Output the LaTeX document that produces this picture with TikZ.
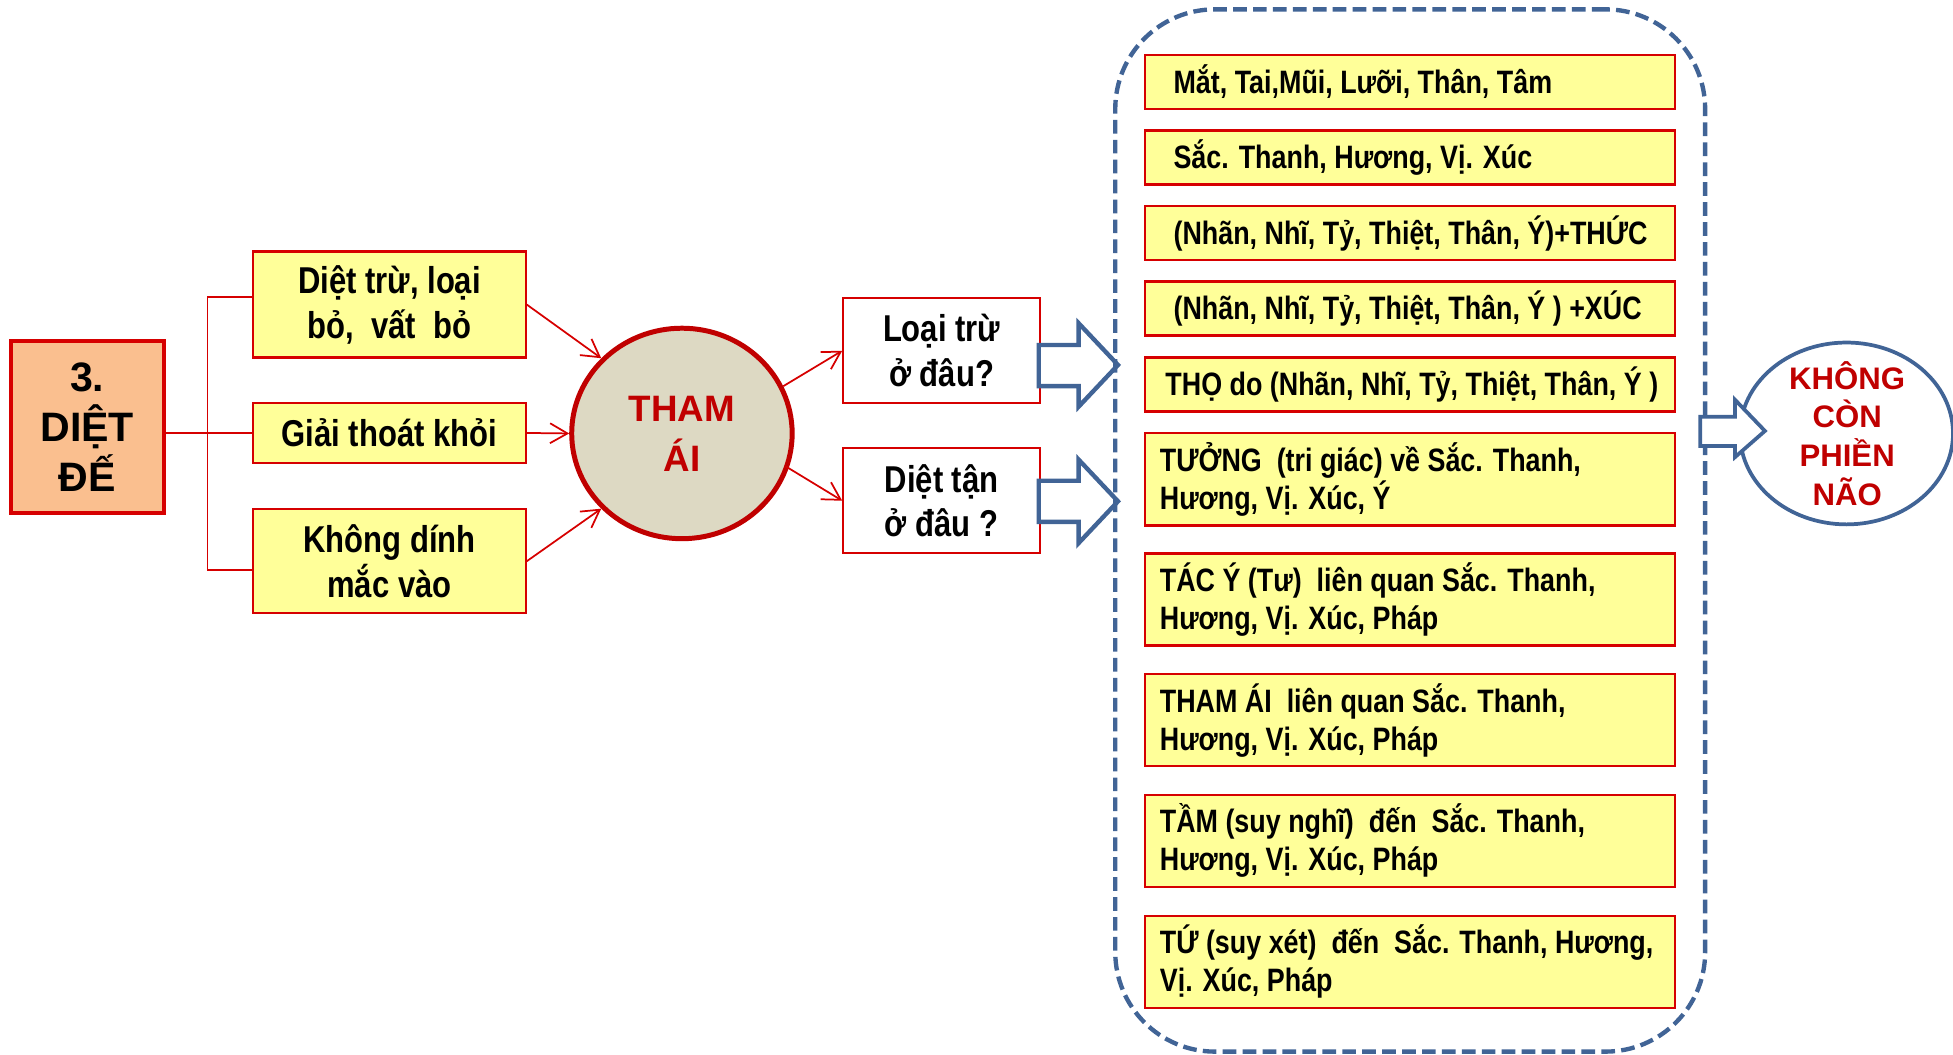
\documentclass[tikz,border=0pt]{standalone}
\usepackage{fontspec}
\setmainfont{Liberation Sans}
\newfontfamily\nb[FakeStretch=0.83]{Liberation Sans}
\usetikzlibrary{arrows.meta,shapes.geometric,calc}
\definecolor{ylw}{RGB}{255,255,153}
\definecolor{bred}{RGB}{214,0,0}
\definecolor{dred}{RGB}{192,0,0}
\definecolor{peach}{RGB}{250,191,143}
\definecolor{khaki}{RGB}{221,217,195}
\definecolor{dblue}{RGB}{65,100,150}
\begin{document}
\begin{tikzpicture}[x=1pt,y=-1pt,
  ybox/.style={draw=bred, fill=ylw, line width=1.8pt, inner sep=0pt, rectangle},
  wbox/.style={draw=bred, fill=white, line width=1.6pt, inner sep=0pt, rectangle},
  ltext/.style={font=\nb\bfseries\fontsize{30}{36}\selectfont, align=center},
  rtext/.style={font=\nb\bfseries\fontsize{26}{30.5}\selectfont, align=left, inner sep=0pt, anchor=west},
  arr/.style={draw=bred, line width=1.4pt, -{Straight Barb[length=14pt,width=16pt]}},
  brk/.style={draw=bred, line width=1.2pt},
  blk/.style={draw=dblue, fill=white, line width=3.5pt, line join=miter},
]
\useasboundingbox (0,0) rectangle (1568,847);

% left part
\node[ybox, fill=peach, draw=bred, line width=3.2pt, minimum width=123pt, minimum height=138pt,
      font=\bfseries\fontsize{33}{40}\selectfont, align=center] (d) at (70,343) {3.\\DIỆT\\ĐẾ};
\node[ybox, ltext, minimum width=218.6pt, minimum height=85pt] (b1) at (312.7,244.5) {Diệt trừ, loại\\bỏ,~ vất~ bỏ};
\node[ybox, ltext, minimum width=218.6pt, minimum height=47.8pt] (b2) at (312.7,347.6) {Giải thoát khỏi};
\node[ybox, ltext, minimum width=218.6pt, minimum height=83.3pt] (b3) at (312.7,450.6) {Không dính\\mắc vào};

\draw[brk] ($(b1.west)+(0,-6)$) -- ++(-36,0) |- ($(b3.west)+(0,7)$);
\draw[brk] (d.east |- b2.west) -- (b2.west);

\node[ellipse, draw=dred, fill=khaki, line width=4pt, minimum width=177pt, minimum height=169pt,
      inner sep=0pt, font=\bfseries\fontsize{29.5}{40}\selectfont, text=dred, align=center] (tham) at (547.5,348) {THAM\\ÁI};

\draw[arr] (b1.east) -- (tham.137);
\draw[arr] (b2.east) -- (tham.west);
\draw[arr] (b3.east) -- (tham.223);

\node[wbox, ltext, minimum width=158pt, minimum height=84pt] (lt) at (756,281.6) {Loại trừ\\ở đâu?};
\node[wbox, ltext, minimum width=158pt, minimum height=84pt] (dt) at (756,402) {Diệt tận\\ở đâu ?};

\draw[arr] (tham.25) -- (lt.west);
\draw[arr] ($(tham.-17)+(-3,0)$) -- (dt.west);

% block arrows
\draw[blk] (834,277) -- (866,277) -- (866,259.5) -- (897.6,293) -- (866,326.5) -- (866,310) -- (834,310) -- cycle;
\draw[blk] (834,386) -- (866,386) -- (866,369) -- (897.6,402.5) -- (866,436) -- (866,419) -- (834,419) -- cycle;

% dashed frame
\node[draw=dblue, line width=3.5pt, dash pattern=on 11pt off 5pt, rounded corners=80pt, rectangle,
      minimum width=473.6pt, minimum height=836.8pt, inner sep=0pt] (frame) at (1132.2,425.9) {};

% right boxes
\node[ybox, minimum width=425.6pt, minimum height=43.4pt] (r1) at (1132.2,65.85) {};
\node[rtext] (t1) at ($(r1.west)+(23.5,0)$) {Mắt, Tai,Mũi, Lưỡi, Thân, Tâm};
\node[ybox, minimum width=425.6pt, minimum height=43.4pt] (r2) at (1132.2,126.5) {};
\node[rtext] (t2) at ($(r2.west)+(23.5,0)$) {Sắc. Thanh, Hương, Vị. Xúc};
\node[ybox, minimum width=425.6pt, minimum height=43.4pt] (r3) at (1132.2,187.1) {};
\node[rtext] (t3) at ($(r3.west)+(23.5,0)$) {(Nhãn, Nhĩ, Tỷ, Thiệt, Thân, Ý)+THỨC};
\node[ybox, minimum width=425.6pt, minimum height=43.4pt] (r4) at (1132.2,247.75) {};
\node[rtext] (t4) at ($(r4.west)+(23.5,0)$) {(Nhãn, Nhĩ, Tỷ, Thiệt, Thân, Ý ) +XÚC};
\node[ybox, minimum width=425.6pt, minimum height=43.4pt] (r5) at (1132.2,308.75) {};
\node[rtext] (t5) at ($(r5.west)+(17,0)$) {THỌ do (Nhãn, Nhĩ, Tỷ, Thiệt, Thân, Ý )};
\node[ybox, minimum width=425.6pt, minimum height=74pt] (r6) at (1132.2,384.9) {};
\node[rtext] (t6) at ($(r6.west)+(12.5,0)$) {TƯỞNG~ (tri giác) về Sắc. Thanh,\\Hương, Vị. Xúc, Ý};
\node[ybox, minimum width=425.6pt, minimum height=74pt] (r7) at (1132.2,481.3) {};
\node[rtext] (t7) at ($(r7.west)+(12.5,0)$) {TÁC Ý (Tư)~ liên quan Sắc. Thanh,\\Hương, Vị. Xúc, Pháp};
\node[ybox, minimum width=425.6pt, minimum height=74pt] (r8) at (1132.2,578.25) {};
\node[rtext] (t8) at ($(r8.west)+(12.5,0)$) {THAM ÁI~ liên quan Sắc. Thanh,\\Hương, Vị. Xúc, Pháp};
\node[ybox, minimum width=425.6pt, minimum height=74pt] (r9) at (1132.2,675.1) {};
\node[rtext] (t9) at ($(r9.west)+(12.5,0)$) {TẦM (suy nghĩ)~ đến~ Sắc. Thanh,\\Hương, Vị. Xúc, Pháp};
\node[ybox, minimum width=425.6pt, minimum height=74pt] (r10) at (1132.2,772.2) {};
\node[rtext] (t10) at ($(r10.west)+(12.5,0)$) {TỨ (suy xét)~ đến~ Sắc. Thanh, Hương,\\Vị. Xúc, Pháp};

% right ellipse
\node[ellipse, draw=dblue, fill=white, line width=3pt, minimum width=171pt, minimum height=146pt, inner sep=0pt] (kc) at (1482.5,348) {};
\node[text=dred, font=\bfseries\fontsize{25}{31}\selectfont, align=center, inner sep=0pt] (kct) at (1483,348) {KHÔNG\\CÒN\\PHIỀN\\NÃO};
\draw[blk, line width=3pt] (1365,334.5) -- (1393,334.5) -- (1393,321) -- (1417,346) -- (1393,367) -- (1393,358) -- (1365,358) -- cycle;
\end{tikzpicture}
\end{document}
